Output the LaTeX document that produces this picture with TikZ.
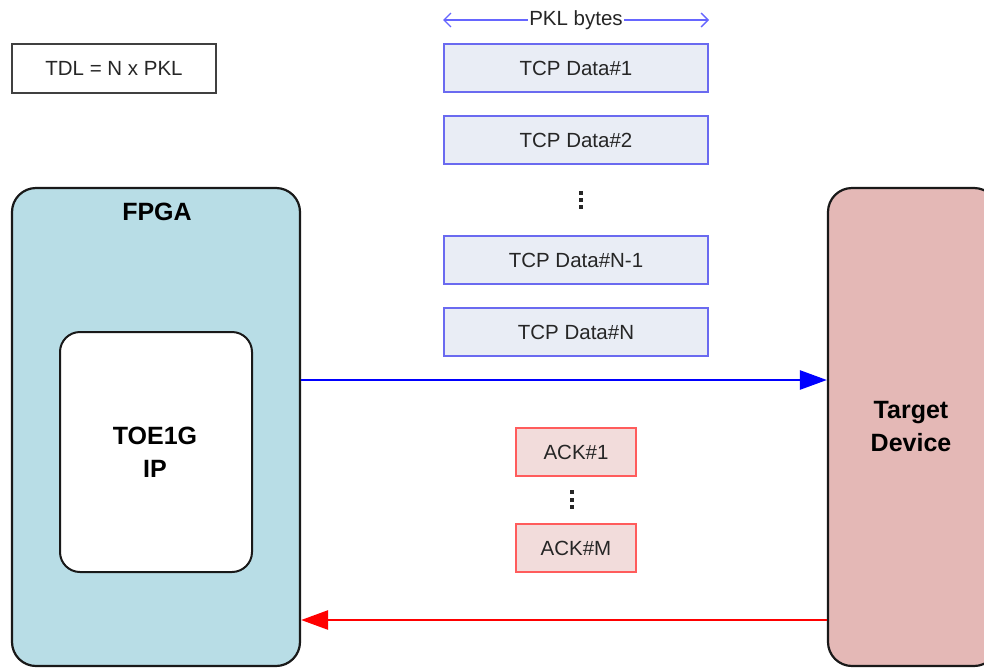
\documentclass[tikz,border=0pt]{standalone}
\usepackage{fontspec}
\setmainfont{Liberation Sans}
\usetikzlibrary{arrows.meta}
\definecolor{fpgafill}{HTML}{B8DDE6}
\definecolor{tgtfill}{HTML}{E4B8B6}
\definecolor{tcpfill}{HTML}{E9EDF5}
\definecolor{tcpedge}{HTML}{6A6AF0}
\definecolor{ackfill}{HTML}{F2DCDB}
\definecolor{ackedge}{HTML}{FF5C5C}
\definecolor{pklblue}{HTML}{6666FF}
\definecolor{edgegray}{HTML}{404040}
\definecolor{arrblue}{HTML}{0000FF}
\definecolor{arrred}{HTML}{FF0000}
\begin{document}
\begin{tikzpicture}[x=1pt,y=-1pt,
  txt/.style={font=\fontsize{20.5}{24}\selectfont, text=black!85},
  bigtxt/.style={font=\fontsize{25}{33}\selectfont\bfseries, text=black, align=center},
  tcpbox/.style={txt, draw=tcpedge, fill=tcpfill, line width=1.2pt, minimum width=264pt, minimum height=48pt, inner sep=0pt},
  ackbox/.style={txt, draw=ackedge, fill=ackfill, line width=1.2pt, minimum width=120pt, minimum height=48pt, inner sep=0pt},
  bigbox/.style={draw=black!90, line width=2.2pt, rounded corners=24pt, inner sep=0pt},
  dotsq/.style={fill=black!85, minimum size=3.6pt, inner sep=0pt},
  flow/.style={line width=2.6pt},
]
\useasboundingbox (0,0) rectangle (984,667);

% legend
\node[txt, draw=edgegray, line width=1.2pt, minimum width=204pt, minimum height=49pt, inner sep=0pt] (tdl) at (114,68.5) {TDL = N x PKL};

% PKL bytes dimension
\coordinate (pklL) at (443,20);
\coordinate (pklR) at (709,20);
\draw[pklblue, line width=1.4pt, {Straight Barb[length=7pt,width=14pt]}-{Straight Barb[length=7pt,width=14pt]}] (pklL) -- (pklR)
  node[midway, txt, fill=white, inner sep=1pt] (pkl) {PKL bytes};

% TCP data boxes
\node[tcpbox] (tcp1) at (576,68) {TCP Data\#1};
\node[tcpbox] (tcp2) at (576,140) {TCP Data\#2};
\node[dotsq] (d1) at (581,193) {};
\node[dotsq] (d2) at (581,200) {};
\node[dotsq] (d3) at (581,207) {};
\node[tcpbox] (tcp3) at (576,260) {TCP Data\#N-1};
\node[tcpbox] (tcp4) at (576,332) {TCP Data\#N};

% FPGA
\node[bigbox, fill=fpgafill, minimum width=288pt, minimum height=478pt] (fpga) at (156,427) {};
\node[bigtxt] (fpgalbl) at (157,212) {FPGA};
\node[bigbox, fill=white, rounded corners=20pt, line width=2pt, minimum width=192pt, minimum height=240pt] (toe) at (156,452) {};
\node[bigtxt] (toelbl) at (155,452) {TOE1G\\IP};

% Target device
\node[bigbox, fill=tgtfill, minimum width=170pt, minimum height=478pt] (tgt) at (913,427) {};
\node[bigtxt] (tgtlbl) at (911,427) {Target\\Device};

% ACK boxes
\node[ackbox] (ack1) at (576,452) {ACK\#1};
\node[dotsq] (e1) at (572,492) {};
\node[dotsq] (e2) at (572,500) {};
\node[dotsq] (e3) at (572,507) {};
\node[ackbox] (ackm) at (576,548) {ACK\#M};

% flows
\draw[flow, arrblue, -{Triangle[length=27pt,width=19pt]}] ([yshift=47pt]fpga.east) -- ([yshift=47pt]tgt.west);
\draw[flow, arrred, -{Triangle[length=27pt,width=19pt]}] ([yshift=-193pt]tgt.west) -- ([yshift=-193pt]fpga.east);
\end{tikzpicture}
\end{document}
